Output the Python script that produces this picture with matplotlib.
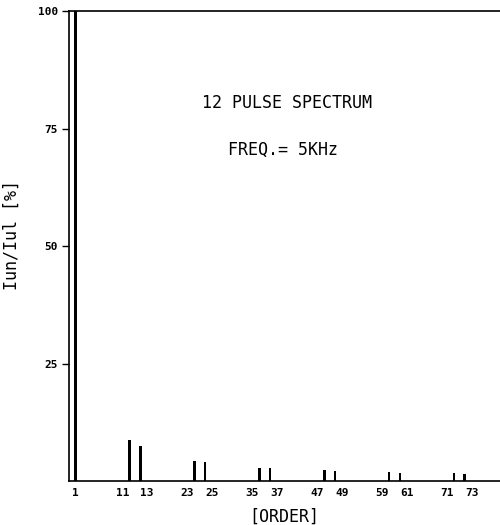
import matplotlib
matplotlib.use("Agg")
import matplotlib.pyplot as plt

# harmonic orders and amplitudes (percent of fundamental)
orders = [1, 11, 13, 23, 25, 35, 37, 47, 49, 59, 61, 71, 73]
amplitude = [100, 8.8, 7.5, 4.2, 4.0, 2.8, 2.75, 2.3, 2.2, 1.85, 1.8, 1.6, 1.55]
y_ticks = [25, 50, 75, 100]

plt.rcParams['font.family'] = ['DejaVu Sans Mono']

fig = plt.figure(figsize=(5, 5.25), dpi=100)
ax = fig.add_axes([0.138, 0.0838, 0.862, 0.8952])

ax.bar(orders, amplitude, width=0.5, color='black')

ax.set_xlim(-0.16, 79.5)
ax.set_ylim(0, 100)

ax.spines['right'].set_visible(False)
for s in ['left', 'bottom', 'top']:
    ax.spines[s].set_linewidth(1.2)

ax.set_yticks(y_ticks)
ax.set_yticklabels([str(v) for v in y_ticks], fontsize=8, fontweight='bold')
ax.tick_params(axis='y', length=5, width=1, pad=3)

ax.set_xticks(orders)
ax.set_xticklabels([str(o) for o in orders], fontsize=8, fontweight='bold')
ax.tick_params(axis='x', length=0, pad=5)
# pairs of labels: the lower order sits left of its bar, the upper one right
for i, lab in enumerate(ax.get_xticklabels()):
    if i == 0:
        continue
    lab.set_horizontalalignment('right' if i % 2 == 1 else 'left')

ax.set_ylabel('Iun/Iul [%]', fontsize=12)
ax.yaxis.set_label_coords(-0.111, 0.524)
ax.set_xlabel('[ORDER]', fontsize=12, labelpad=7)

ax.text(0.505, 0.805, '12 PULSE SPECTRUM', transform=ax.transAxes,
        ha='center', va='center', fontsize=12)
ax.text(0.497, 0.705, 'FREQ.= 5KHz', transform=ax.transAxes,
        ha='center', va='center', fontsize=12)

fig.savefig('out.png', dpi=100)
